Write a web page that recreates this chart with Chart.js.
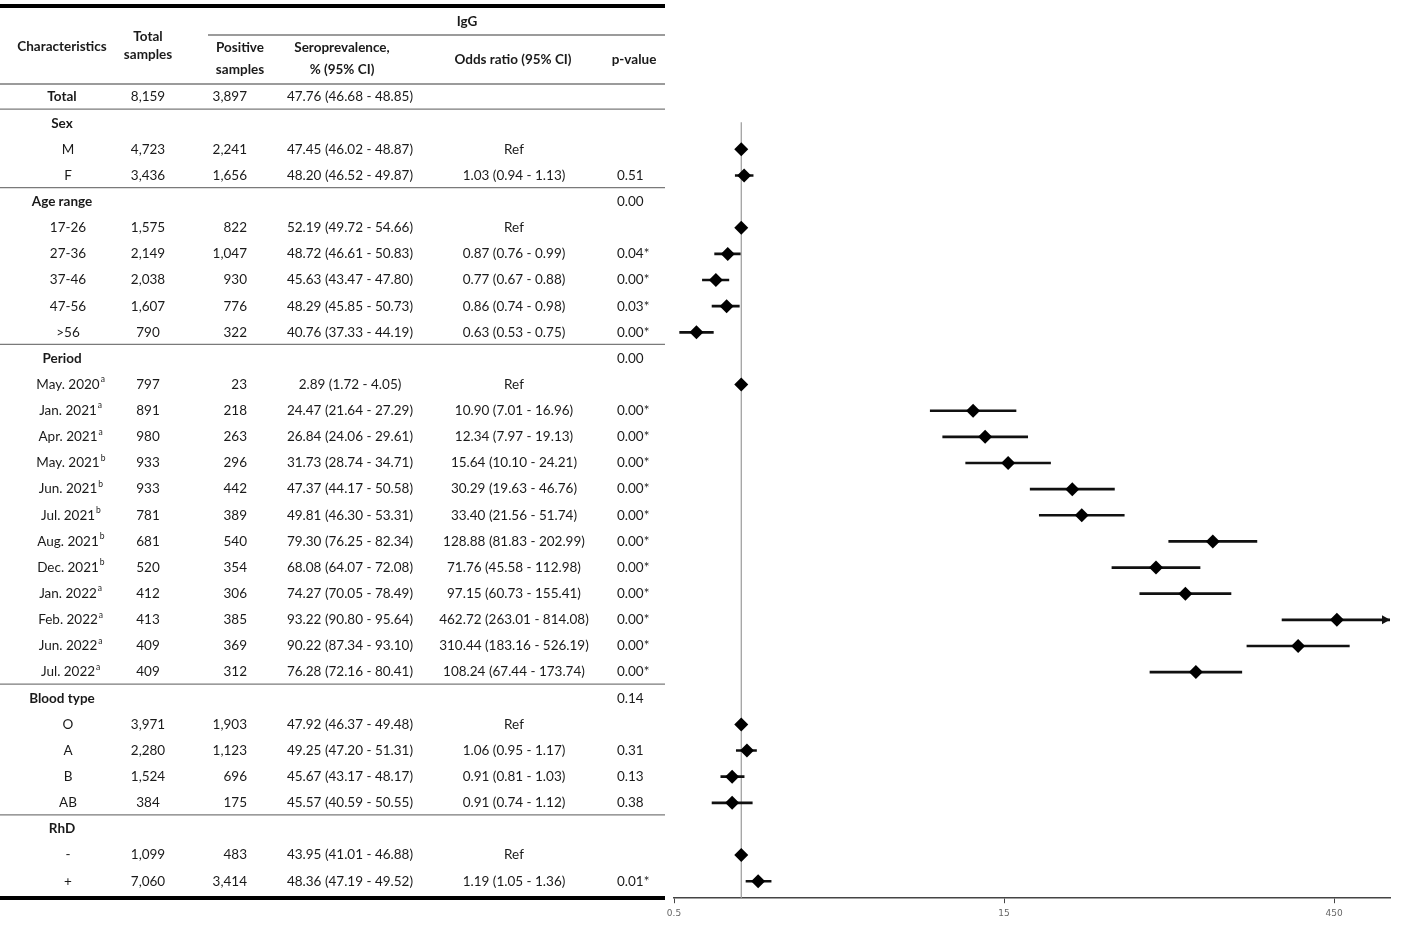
<!DOCTYPE html>
<html>
<head>
<meta charset="utf-8">
<title>IgG seroprevalence forest plot</title>
<script src="https://cdn.jsdelivr.net/npm/chart.js@4.4.1/dist/chart.umd.min.js"></script>
<style>
  html, body { margin: 0; padding: 0; background: #fff; }
  #wrap { position: relative; width: 1417px; height: 934px; }
</style>
</head>
<body>
<div id="wrap"><canvas id="forest" width="1417" height="934"></canvas></div>
<script>
const rowLabels = [
  "Total", "Sex", "M", "F",
  "Age range", "17-26", "27-36", "37-46", "47-56", ">56",
  "Period", "May. 2020", "Jan. 2021", "Apr. 2021", "May. 2021", "Jun. 2021", "Jul. 2021",
  "Aug. 2021", "Dec. 2021", "Jan. 2022", "Feb. 2022", "Jun. 2022", "Jul. 2022",
  "Blood type", "O", "A", "B", "AB",
  "RhD", "-", "+",
];
const groupRows = ["Total", "Sex", "Age range", "Period", "Blood type", "RhD"];
const labelNotes = [
  "", "", "", "",
  "", "", "", "", "", "",
  "", "a", "a", "a", "b", "b", "b", "b", "b", "a", "a", "a", "a",
  "", "", "", "", "",
  "", "", "",
];
const totalSamples = [
  "8,159", "", "4,723", "3,436",
  "", "1,575", "2,149", "2,038", "1,607", "790",
  "", "797", "891", "980", "933", "933", "781", "681", "520", "412", "413", "409", "409",
  "", "3,971", "2,280", "1,524", "384",
  "", "1,099", "7,060",
];
const positiveSamples = [
  "3,897", "", "2,241", "1,656",
  "", "822", "1,047", "930", "776", "322",
  "", "23", "218", "263", "296", "442", "389", "540", "354", "306", "385", "369", "312",
  "", "1,903", "1,123", "696", "175",
  "", "483", "3,414",
];
const seroprevalence = [
  "47.76 (46.68 - 48.85)", "", "47.45 (46.02 - 48.87)", "48.20 (46.52 - 49.87)",
  "", "52.19 (49.72 - 54.66)", "48.72 (46.61 - 50.83)", "45.63 (43.47 - 47.80)",
  "48.29 (45.85 - 50.73)", "40.76 (37.33 - 44.19)",
  "", "2.89 (1.72 - 4.05)", "24.47 (21.64 - 27.29)", "26.84 (24.06 - 29.61)",
  "31.73 (28.74 - 34.71)", "47.37 (44.17 - 50.58)", "49.81 (46.30 - 53.31)",
  "79.30 (76.25 - 82.34)", "68.08 (64.07 - 72.08)", "74.27 (70.05 - 78.49)",
  "93.22 (90.80 - 95.64)", "90.22 (87.34 - 93.10)", "76.28 (72.16 - 80.41)",
  "", "47.92 (46.37 - 49.48)", "49.25 (47.20 - 51.31)", "45.67 (43.17 - 48.17)",
  "45.57 (40.59 - 50.55)",
  "", "43.95 (41.01 - 46.88)", "48.36 (47.19 - 49.52)",
];
const oddsRatioText = [
  "", "", "Ref", "1.03 (0.94 - 1.13)",
  "", "Ref", "0.87 (0.76 - 0.99)", "0.77 (0.67 - 0.88)", "0.86 (0.74 - 0.98)", "0.63 (0.53 - 0.75)",
  "", "Ref", "10.90 (7.01 - 16.96)", "12.34 (7.97 - 19.13)", "15.64 (10.10 - 24.21)",
  "30.29 (19.63 - 46.76)", "33.40 (21.56 - 51.74)", "128.88 (81.83 - 202.99)",
  "71.76 (45.58 - 112.98)", "97.15 (60.73 - 155.41)", "462.72 (263.01 - 814.08)",
  "310.44 (183.16 - 526.19)", "108.24 (67.44 - 173.74)",
  "", "Ref", "1.06 (0.95 - 1.17)", "0.91 (0.81 - 1.03)", "0.91 (0.74 - 1.12)",
  "", "Ref", "1.19 (1.05 - 1.36)",
];
const pValues = [
  "", "", "", "0.51",
  "0.00", "", "0.04*", "0.00*", "0.03*", "0.00*",
  "0.00", "", "0.00*", "0.00*", "0.00*", "0.00*", "0.00*", "0.00*", "0.00*", "0.00*", "0.00*", "0.00*", "0.00*",
  "0.14", "", "0.31", "0.13", "0.38",
  "", "", "0.01*",
];
// forest plot values (null = no marker)
const orPoint = [
  null, null, 1, 1.03,
  null, 1, 0.87, 0.77, 0.86, 0.63,
  null, 1, 10.90, 12.34, 15.64, 30.29, 33.40, 128.88, 71.76, 97.15, 462.72, 310.44, 108.24,
  null, 1, 1.06, 0.91, 0.91,
  null, 1, 1.19,
];
const orLow = [
  null, null, null, 0.94,
  null, null, 0.76, 0.67, 0.74, 0.53,
  null, null, 7.01, 7.97, 10.10, 19.63, 21.56, 81.83, 45.58, 60.73, 263.01, 183.16, 67.44,
  null, null, 0.95, 0.81, 0.74,
  null, null, 1.05,
];
const orHigh = [
  null, null, null, 1.13,
  null, null, 0.99, 0.88, 0.98, 0.75,
  null, null, 16.96, 19.13, 24.21, 46.76, 51.74, 202.99, 112.98, 155.41, 814.08, 526.19, 173.74,
  null, null, 1.17, 1.03, 1.12,
  null, null, 1.36,
];
const xTicks = [0.5, 15, 450];
const xMin = 0.5;
const xMax = 800;

const FONT = "Lato, 'Open Sans', sans-serif";
const TEXT = "#1a1a1a";
const TABLE_RIGHT = 665;

const col = {
  label: 68,
  group: 62,
  total: 148,
  positive: 247,
  sero: 350,
  odds: 514,
  p: 617,
};

const ciBars = [];
const points = [];
rowLabels.forEach((_, i) => {
  if (orLow[i] !== null) ciBars.push({ x: [orLow[i], Math.min(orHigh[i], xMax * 1.05)], y: i });
  if (orPoint[i] !== null) points.push({ x: orPoint[i], y: i });
});

function hline(ctx, x1, x2, y, width, color) {
  ctx.save();
  ctx.strokeStyle = color;
  ctx.lineWidth = width;
  ctx.beginPath();
  ctx.moveTo(x1, y);
  ctx.lineTo(x2, y);
  ctx.stroke();
  ctx.restore();
}

function text(ctx, str, x, y, align, bold) {
  ctx.font = `${bold ? "bold " : ""}13.5px ${FONT}`;
  ctx.textAlign = align;
  ctx.fillText(str, x, y);
}

const tablePlugin = {
  id: "table",
  beforeDatasetsDraw(chart) {
    const { ctx, scales } = chart;
    const x = scales.x;
    const y = scales.y;
    // reference line at OR = 1
    const refX = x.getPixelForValue(1);
    ctx.save();
    ctx.strokeStyle = "#9a9a9a";
    ctx.lineWidth = 1.2;
    ctx.beginPath();
    ctx.moveTo(refX, y.getPixelForValue(1) - 1);
    ctx.lineTo(refX, chart.chartArea.bottom);
    ctx.stroke();
    ctx.restore();
  },
  afterDraw(chart) {
    const { ctx, scales } = chart;
    const y = scales.y;
    const x = scales.x;
    ctx.save();
    ctx.fillStyle = TEXT;
    ctx.textBaseline = "middle";

    // header
    hline(ctx, 0, TABLE_RIGHT, 6, 4, "#000");
    text(ctx, "IgG", 467, 22, "center", true);
    hline(ctx, 208, TABLE_RIGHT, 35, 1.3, "#7a7a7a");
    text(ctx, "Characteristics", col.group, 47, "center", true);
    text(ctx, "Total", col.total, 37, "center", true);
    text(ctx, "samples", col.total, 55, "center", true);
    text(ctx, "Positive", 240, 48, "center", true);
    text(ctx, "samples", 240, 70, "center", true);
    text(ctx, "Seroprevalence,", 342, 48, "center", true);
    text(ctx, "% (95% CI)", 342, 70, "center", true);
    text(ctx, "Odds ratio (95% CI)", 513, 60, "center", true);
    text(ctx, "p-value", 634, 60, "center", true);
    hline(ctx, 0, TABLE_RIGHT, 84, 1.3, "#7a7a7a");

    rowLabels.forEach((label, i) => {
      const py = y.getPixelForValue(i);
      const isGroup = groupRows.includes(label);
      if (isGroup && i > 0) {
        const prev = y.getPixelForValue(i - 1);
        hline(ctx, 0, TABLE_RIGHT, (prev + py) / 2 - 1, 1.3, "#7a7a7a");
      }
      if (isGroup) {
        text(ctx, label, col.group, py, "center", true);
      } else {
        text(ctx, label, col.label, py, "center", false);
        if (labelNotes[i]) {
          const w = ctx.measureText(label).width;
          ctx.font = `8.5px ${FONT}`;
          ctx.textAlign = "left";
          ctx.fillText(labelNotes[i], col.label + w / 2 + 1, py - 5);
        }
      }
      text(ctx, totalSamples[i], col.total, py, "center", false);
      text(ctx, positiveSamples[i], col.positive, py, "right", false);
      text(ctx, seroprevalence[i], col.sero, py, "center", false);
      text(ctx, oddsRatioText[i], col.odds, py, "center", false);
      text(ctx, pValues[i], col.p, py, "left", false);
    });

    hline(ctx, 0, TABLE_RIGHT, 898, 4, "#000");

    // arrow heads for intervals running past the axis
    rowLabels.forEach((_, i) => {
      if (orHigh[i] !== null && orHigh[i] > xMax) {
        const py = y.getPixelForValue(i);
        const tip = x.getPixelForValue(xMax);
        ctx.fillStyle = "#111";
        ctx.beginPath();
        ctx.moveTo(tip, py);
        ctx.lineTo(tip - 8, py - 4.5);
        ctx.lineTo(tip - 8, py + 4.5);
        ctx.closePath();
        ctx.fill();
      }
    });
    ctx.restore();
  },
};

new Chart(document.getElementById("forest"), {
  data: {
    datasets: [
      {
        type: "bar",
        indexAxis: "y",
        data: ciBars,
        backgroundColor: "#111",
        borderWidth: 0,
        barThickness: 2,
        order: 2,
      },
      {
        type: "scatter",
        data: points,
        pointStyle: "rectRot",
        pointRadius: 7,
        pointBackgroundColor: "#000",
        pointBorderColor: "#000",
        pointBorderWidth: 0,
        order: 1,
      },
    ],
  },
  options: {
    responsive: false,
    animation: false,
    maintainAspectRatio: false,
    devicePixelRatio: 1,
    layout: { padding: { left: 674, right: 27, top: 84, bottom: 10 } },
    plugins: { legend: { display: false }, tooltip: { enabled: false } },
    scales: {
      x: {
        type: "logarithmic",
        min: xMin,
        max: xMax,
        afterBuildTicks: (scale) => {
          scale.ticks = xTicks.map((v) => ({ value: v }));
        },
        ticks: {
          autoSkip: false,
          maxRotation: 0,
          color: "#666",
          padding: 5,
          font: { family: "'DejaVu Sans', sans-serif", size: 9 },
          callback: (value) => String(value),
        },
        grid: { drawOnChartArea: false, drawTicks: true, tickLength: 5, color: "#444", lineWidth: 1 },
        border: { display: true, color: "#444", width: 1.5 },
      },
      y: {
        type: "linear",
        reverse: true,
        offset: false,
        min: -0.5,
        max: 30.65,
        display: false,
      },
    },
  },
  plugins: [tablePlugin],
});
</script>
</body>
</html>
